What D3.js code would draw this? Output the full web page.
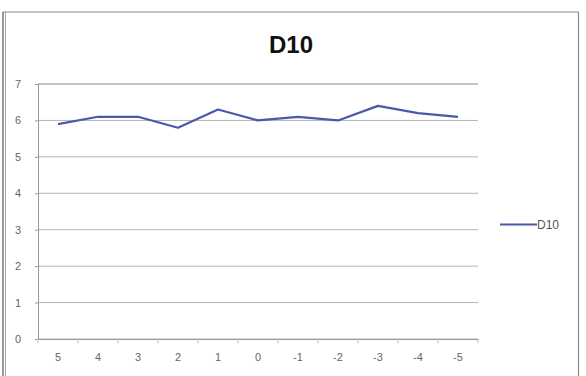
<!DOCTYPE html>
<html>
<head>
<meta charset="utf-8">
<script src="https://cdn.jsdelivr.net/npm/d3@7"></script>
<style>
  html, body { margin: 0; padding: 0; background: #fff; }
  svg { display: block; }
</style>
</head>
<body>
<svg id="chart" width="586" height="376"></svg>
<script>
// Series D10 across the positions 5 … -5
const categories = ["5", "4", "3", "2", "1", "0", "-1", "-2", "-3", "-4", "-5"];
const d10Values = [5.9, 6.1, 6.1, 5.8, 6.3, 6.0, 6.1, 6.0, 6.4, 6.2, 6.1];
const yTicks = [0, 1, 2, 3, 4, 5, 6, 7];
const seriesName = "D10";
const chartTitle = "D10";

const svg = d3.select("#chart");
const font = "'Liberation Sans', Arial, sans-serif";
const lineColor = "#4a5aa8";

// chart frame
svg.append("rect").attr("x", 0).attr("y", 0).attr("width", 586).attr("height", 376).attr("fill", "#fff");
svg.append("line").attr("x1", 3).attr("x2", 3).attr("y1", 12).attr("y2", 376).attr("stroke", "#777").attr("stroke-width", 1.5);
svg.append("line").attr("x1", 5.5).attr("x2", 5.5).attr("y1", 12).attr("y2", 376).attr("stroke", "#aaa").attr("stroke-width", 1);
svg.append("line").attr("x1", 3).attr("x2", 579).attr("y1", 12).attr("y2", 12).attr("stroke", "#888").attr("stroke-width", 1.2);
svg.append("line").attr("x1", 578.5).attr("x2", 578.5).attr("y1", 12).attr("y2", 376).attr("stroke", "#888").attr("stroke-width", 1.2);

const plot = { left: 38, right: 478, top: 84, bottom: 339 };

const x = d3.scaleBand().domain(categories).range([plot.left, plot.right]);
const y = d3.scaleLinear().domain([0, 7]).range([plot.bottom, plot.top]);

// horizontal gridlines
svg.append("g")
  .selectAll("line")
  .data(yTicks)
  .join("line")
  .attr("x1", plot.left)
  .attr("x2", plot.right)
  .attr("y1", d => y(d))
  .attr("y2", d => y(d))
  .attr("stroke", d => d === 7 ? "#c4c4c4" : "#b4b4b4")
  .attr("stroke-width", d => d === 7 ? 2 : 1);

// value axis
const yAxis = d3.axisLeft(y).tickValues(yTicks).tickSize(3).tickPadding(14).tickFormat(d3.format("d"));
const gy = svg.append("g").attr("transform", `translate(${plot.left},0)`).call(yAxis);
gy.select(".domain").attr("stroke", "#999");
gy.selectAll(".tick line").attr("stroke", "#999");
gy.selectAll(".tick text").attr("fill", "#666").attr("font-family", font).attr("font-size", 11);

// category axis
const xAxis = d3.axisBottom(x).tickSize(0).tickPadding(14);
const gx = svg.append("g").attr("transform", `translate(0,${plot.bottom})`).call(xAxis);
gx.select(".domain").attr("stroke", "#999");
gx.selectAll(".tick text").attr("fill", "#666").attr("font-family", font).attr("font-size", 11);
// tick marks between categories
gx.append("g").selectAll("line")
  .data(categories.concat(["end"]))
  .join("line")
  .attr("x1", (d, i) => plot.left + i * x.step())
  .attr("x2", (d, i) => plot.left + i * x.step())
  .attr("y1", 0).attr("y2", 4)
  .attr("stroke", "#bbb");

// series line
const line = d3.line()
  .x((d, i) => x(categories[i]) + x.bandwidth() / 2)
  .y(d => y(d));
svg.append("path")
  .datum(d10Values)
  .attr("d", line)
  .attr("fill", "none")
  .attr("stroke", lineColor)
  .attr("stroke-width", 2.2)
  .attr("stroke-linejoin", "round");

// title
svg.append("text")
  .attr("x", 291).attr("y", 53)
  .attr("text-anchor", "middle")
  .attr("font-family", font)
  .attr("font-weight", "bold")
  .attr("font-size", 24)
  .attr("fill", "#111")
  .text(chartTitle);

// legend
svg.append("line").attr("x1", 500).attr("x2", 537).attr("y1", 224.5).attr("y2", 224.5)
  .attr("stroke", lineColor).attr("stroke-width", 2.2);
svg.append("text").attr("x", 537).attr("y", 229)
  .attr("font-family", font).attr("font-size", 12).attr("fill", "#555")
  .text(seriesName);
</script>
</body>
</html>
